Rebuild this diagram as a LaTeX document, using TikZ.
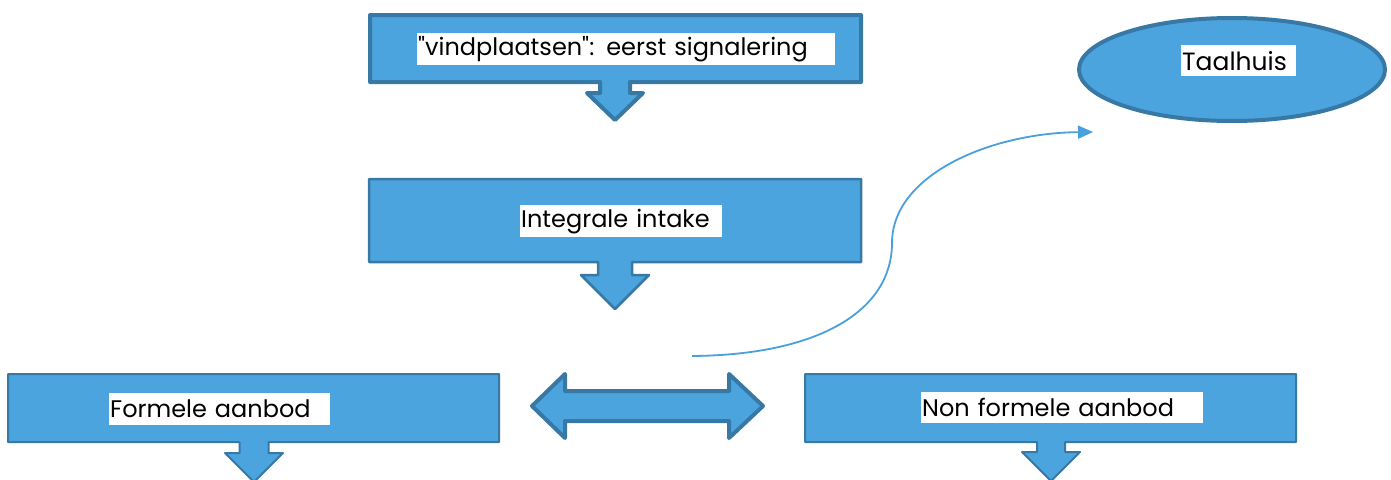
\documentclass[tikz,border=0pt]{standalone}
\usepackage{fontspec}
\setmainfont{Poppins}
\usetikzlibrary{shapes.geometric,arrows.meta}
\definecolor{fillblue}{RGB}{75,164,221}
\definecolor{edgeblue}{RGB}{56,120,165}
\definecolor{lineblue}{RGB}{72,160,220}
\tikzset{
  shapebox/.style={fill=fillblue, draw=edgeblue, line join=round},
  tag/.style={fill=white, anchor=north west, inner sep=0pt, inner xsep=1pt, align=left, text=black, font=\fontsize{24}{28}\selectfont},
  linkline/.style={draw=lineblue, line width=1.8pt, -{Triangle[length=15pt,width=13pt]}},
}
% #1 x-left, #2 y-top, #3 x-right, #4 y-bottom, #5 cx, #6 stem half, #7 stem end, #8 head half, #9 tip
\newcommand{\calloutbox}[9]{%
  (#1,#2) -- (#3,#2) -- (#3,#4) -- (#5+#6,#4) -- (#5+#6,#7) -- (#5+#8,#7) -- (#5,#9) -- (#5-#8,#7) -- (#5-#6,#7) -- (#5-#6,#4) -- (#1,#4) -- cycle}
\begin{document}
\begin{tikzpicture}[x=1pt,y=-1pt]
\useasboundingbox (0,0) rectangle (1391,479);
% box 1
\draw[shapebox, line width=4pt] \calloutbox{370}{15}{861}{82}{615}{15}{93}{28}{120};
\node[tag, text width=416pt, minimum height=32pt] (t1) at (417,33) {\textquotedbl vindplaatsen\textquotedbl: eerst signalering};
% box 2
\draw[shapebox, line width=2.5pt] \calloutbox{369}{179}{861}{262}{615}{17}{275}{34}{309};
\node[tag, text width=200pt, minimum height=32pt] (t2) at (520,205) {Integrale intake};
% box 3
\draw[shapebox, line width=2pt] \calloutbox{8}{374}{499}{442}{254}{14.5}{453}{29}{482};
\node[tag, text width=219pt, minimum height=32pt] (t3) at (109,393) {Formele aanbod};
% box 4
\draw[shapebox, line width=2pt] \calloutbox{805}{374}{1296}{442}{1051}{14}{452}{29}{481};
\node[tag, text width=280pt, minimum height=31pt] (t4) at (921,392) {Non formele aanbod};
% double arrow
\draw[shapebox, line width=4pt] (532,406) -- (565,374) -- (565,391) -- (729,391) -- (729,374) -- (763,406) -- (729,438) -- (729,421) -- (565,421) -- (565,438) -- cycle;
\coordinate (dbl) at (647,406);
% ellipse
\node[ellipse, shapebox, line width=4pt, minimum width=306pt, minimum height=103pt, inner sep=0pt] (taal) at (1232,69.5) {};
\node[tag, text width=113pt, minimum height=31pt, font=\fontsize{25}{29}\selectfont] (t5) at (1181,45) {Taalhuis};
% curved connector
\coordinate (c0) at (692,356);
\coordinate (cm) at (892,243);
\coordinate (c1) at (1093,132);
\draw[linkline] (c0) .. controls (820,355) and (892,310) .. (cm) .. controls (892,175) and (990,133) .. (c1);
\end{tikzpicture}
\end{document}
